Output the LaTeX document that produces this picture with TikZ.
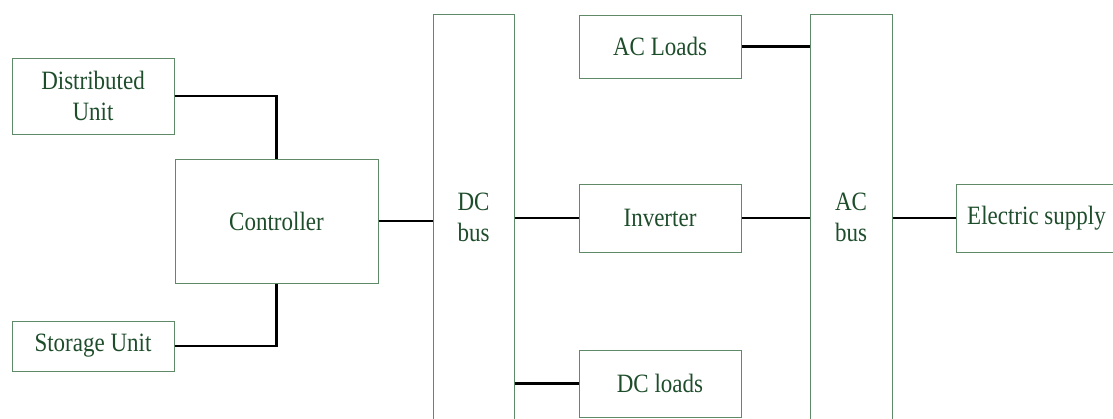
\documentclass[tikz,border=0pt]{standalone}
\usepackage{fontspec}
\usepackage{graphicx}
\setmainfont{Liberation Serif}
\definecolor{boxc}{HTML}{5E8A68}
\definecolor{txtc}{HTML}{1E4D2B}
\newcommand\tx[1]{\scalebox{1}[1.15]{#1}}
\begin{document}
\begin{tikzpicture}[x=1pt,y=-1pt,
  box/.style={draw=boxc, line width=1pt, inner sep=0pt, align=center,
    text=txtc, font=\fontsize{23}{31}\selectfont},
  conn/.style={draw=black, line width=2.8pt}]
\useasboundingbox (0,0) rectangle (1113,418);
\clip (0,0) rectangle (1113,418);
% boxes
\node[box, minimum width=162pt, minimum height=76pt] (du) at (93,96) {\tx{Distributed}\\\tx{Unit}};
\node[box, minimum width=203pt, minimum height=124pt] (ctrl) at (276.5,221) {\tx{Controller}};
\node[box, minimum width=162pt, minimum height=50pt] (su) at (93,346) {\tx{Storage Unit}};
\node[box, minimum width=81pt, minimum height=406pt] (dcbus) at (473.5,217) {\tx{DC}\\\tx{bus}};
\node[box, minimum width=162pt, minimum height=63pt] (acl) at (660,46.5) {\tx{AC Loads}};
\node[box, minimum width=162pt, minimum height=68pt] (inv) at (660,218) {\tx{Inverter}};
\node[box, minimum width=162pt, minimum height=67pt] (dcl) at (660,383.5) {\tx{DC loads}};
\node[box, minimum width=82pt, minimum height=406pt] (acbus) at (851,217) {\tx{AC}\\\tx{bus}};
\node[box, minimum width=161pt, minimum height=68pt] (es) at (1036.5,218) {\tx{Electric supply}};
% connectors
\draw[conn] (du.east) -| (ctrl.north);
\draw[conn] (su.east) -| (ctrl.south);
\draw[conn] (ctrl.east) -- (ctrl.east -| dcbus.west);
\draw[conn] (inv.west -| dcbus.east) -- (inv.west);
\draw[conn] (dcl.west -| dcbus.east) -- (dcl.west);
\draw[conn] (acl.east) -- (acl.east -| acbus.west);
\draw[conn] (inv.east) -- (inv.east -| acbus.west);
\draw[conn] (es.west -| acbus.east) -- (es.west);
\end{tikzpicture}
\end{document}
